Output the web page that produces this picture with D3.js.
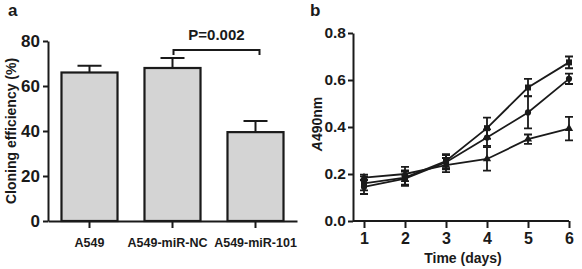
<!DOCTYPE html>
<html>
<head>
<meta charset="utf-8">
<script src="https://cdn.jsdelivr.net/npm/d3@7"></script>
<style>
  body { margin: 0; background: #fff; }
  svg { display: block; font-family: "Liberation Sans", Arial, sans-serif; font-weight: bold; }
  .axis path, .axis line { stroke: #1a1a1a; stroke-width: 2; }
  .axis text { fill: #1a1a1a; font-weight: bold; }
</style>
</head>
<body>
<svg id="fig" width="582" height="269"></svg>
<script>
// panel a: cloning efficiency
var groups = ["A549", "A549-miR-NC", "A549-miR-101"],
    efficiency = [66, 68, 39.5],
    effErr = [3, 4.5, 5],
    effTicks = [0, 20, 40, 60, 80];

// panel b: A490nm over time (mean, error)
var days = [1, 2, 3, 4, 5, 6],
    seriesNames = ["square", "circle", "triangle"],
    squareVals = [0.16, 0.185, 0.255, 0.395, 0.568, 0.675],
    squareErr  = [0.03, 0.03, 0.03, 0.045, 0.037, 0.025],
    circleVals = [0.145, 0.18, 0.25, 0.355, 0.462, 0.605],
    circleErr  = [0.03, 0.03, 0.03, 0.035, 0.068, 0.022],
    triVals    = [0.185, 0.2, 0.238, 0.264, 0.348, 0.393],
    triErr     = [0.012, 0.03, 0.03, 0.05, 0.02, 0.05],
    absTicks = [0, 0.2, 0.4, 0.6, 0.8];

var svg = d3.select("#fig"),
    ink = "#1a1a1a";

// ---------- panel a ----------
var xa = d3.scaleBand().domain(groups).range([48, 297])
      .paddingInner(0.325).paddingOuter(0.1625),
    ya = d3.scaleLinear().domain([0, 80]).range([221, 41]);

var ga = svg.append("g");

ga.selectAll(".bar")
  .data(groups)
  .enter().append("rect")
    .attr("class", "bar")
    .attr("x", function(d) { return xa(d); })
    .attr("width", xa.bandwidth())
    .attr("y", function(d, i) { return ya(efficiency[i]); })
    .attr("height", function(d, i) { return ya(0) - ya(efficiency[i]); })
    .attr("fill", "#d4d4d4")
    .attr("stroke", ink)
    .attr("stroke-width", 2.2);

// upward error whiskers
ga.selectAll(".err")
  .data(groups)
  .enter().append("path")
    .attr("fill", "none")
    .attr("stroke", ink)
    .attr("stroke-width", 2)
    .attr("d", function(d, i) {
      var cx = xa(d) + xa.bandwidth() / 2,
          y0 = ya(efficiency[i]),
          y1 = ya(efficiency[i] + effErr[i]);
      return "M" + cx + "," + y0 + "V" + y1 + "M" + (cx - 12) + "," + y1 + "H" + (cx + 12);
    });

ga.append("g")
  .attr("class", "axis")
  .attr("transform", "translate(48,0)")
  .call(d3.axisLeft(ya).tickValues(effTicks).tickSize(5).tickSizeOuter(0).tickPadding(3))
  .selectAll("text").style("font-size", "17px");

ga.append("g")
  .attr("class", "axis")
  .attr("transform", "translate(0,221)")
  .call(d3.axisBottom(xa).tickSize(7).tickSizeOuter(0).tickPadding(10))
  .selectAll("text")
    .style("font-size", "12.5px")
    .attr("dx", function(d, i) { return i === 1 ? -5 : 0; });

// significance bracket
var bx0 = xa(groups[1]) + xa.bandwidth() / 2 + 1,
    bx1 = xa(groups[2]) + xa.bandwidth() / 2 + 4;
ga.append("path")
  .attr("fill", "none")
  .attr("stroke", ink)
  .attr("stroke-width", 2)
  .attr("d", "M" + bx0 + "," + 55 + "V50H" + bx1 + "V55");
ga.append("text")
  .attr("x", (bx0 + bx1) / 2)
  .attr("y", 40)
  .attr("text-anchor", "middle")
  .style("font-size", "15px")
  .attr("fill", ink)
  .text("P=0.002");

ga.append("text")
  .attr("transform", "translate(16,131) rotate(-90)")
  .attr("text-anchor", "middle")
  .style("font-size", "14px")
  .attr("fill", ink)
  .text("Cloning efficiency (%)");

ga.append("text")
  .attr("x", 8).attr("y", 16)
  .style("font-size", "17px")
  .attr("fill", ink)
  .text("a");

// ---------- panel b ----------
var xb = d3.scaleLinear().domain([1, 6]).range([364, 569]),
    yb = d3.scaleLinear().domain([0, 0.8]).range([221, 33]);

var gb = svg.append("g");

gb.append("g")
  .attr("class", "axis")
  .attr("transform", "translate(353,0)")
  .call(d3.axisLeft(yb).tickValues(absTicks).tickFormat(d3.format(".1f")).tickSize(5).tickSizeOuter(0).tickPadding(2))
  .selectAll("text").style("font-size", "15.5px");

var xAxisB = gb.append("g")
  .attr("class", "axis")
  .attr("transform", "translate(0,221)")
  .call(d3.axisBottom(xb).tickValues(days).tickFormat(d3.format("d")).tickSize(7).tickSizeOuter(0).tickPadding(5));
xAxisB.selectAll("text").style("font-size", "16px");
xAxisB.select(".domain").attr("d", "M353,0H" + xb(6));

var series = [
  { name: seriesNames[0], vals: squareVals, err: squareErr },
  { name: seriesNames[1], vals: circleVals, err: circleErr },
  { name: seriesNames[2], vals: triVals, err: triErr }
];

var line = d3.line()
  .x(function(d, i) { return xb(days[i]); })
  .y(function(d) { return yb(d); });

var sg = gb.selectAll(".series")
  .data(series)
  .enter().append("g")
    .attr("class", "series");

sg.append("path")
  .attr("fill", "none")
  .attr("stroke", ink)
  .attr("stroke-width", 1.8)
  .attr("d", function(s) { return line(s.vals); });

sg.each(function(s) {
  var g = d3.select(this);
  g.selectAll(".eb")
    .data(s.vals)
    .enter().append("path")
      .attr("fill", "none")
      .attr("stroke", ink)
      .attr("stroke-width", 1.8)
      .attr("d", function(v, i) {
        var cx = xb(days[i]),
            yt = yb(v + s.err[i]),
            ybt = yb(v - s.err[i]);
        return "M" + cx + "," + yt + "V" + ybt +
               "M" + (cx - 4) + "," + yt + "H" + (cx + 4) +
               "M" + (cx - 4) + "," + ybt + "H" + (cx + 4);
      });
  var sym = s.name === "square" ? d3.symbolSquare : s.name === "circle" ? d3.symbolCircle : d3.symbolTriangle;
  g.selectAll(".pt")
    .data(s.vals)
    .enter().append("path")
      .attr("transform", function(v, i) { return "translate(" + xb(days[i]) + "," + yb(v) + ")"; })
      .attr("d", d3.symbol().type(sym).size(s.name === "square" ? 36 : 30))
      .attr("fill", ink);
});

gb.append("text")
  .attr("transform", "translate(322,124) rotate(-90)")
  .attr("text-anchor", "middle")
  .style("font-size", "14px")
  .attr("fill", ink)
  .html('<tspan font-style="italic">A</tspan>490nm');

gb.append("text")
  .attr("x", 463).attr("y", 263)
  .attr("text-anchor", "middle")
  .style("font-size", "14px")
  .attr("fill", ink)
  .text("Time (days)");

gb.append("text")
  .attr("x", 310).attr("y", 16)
  .style("font-size", "17px")
  .attr("fill", ink)
  .text("b");
</script>
</body>
</html>
